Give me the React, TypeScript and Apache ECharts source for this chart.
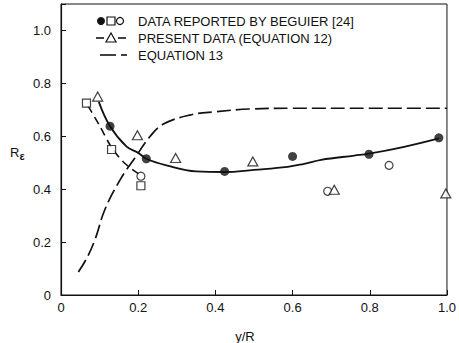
import React, { useEffect, useRef } from "react";
import * as echarts from "echarts";

// ---- data ----
const xTickLabels = ["0", "0.2", "0.4", "0.6", "0.8", "1.0"];
const yTickLabels = ["0", "0.2", "0.4", "0.6", "0.8", "1.0"];

// Beguier [24] data
const beguierFilledX = [0.127, 0.221, 0.424, 0.6, 0.798, 0.979];
const beguierFilledY = [0.638, 0.515, 0.467, 0.524, 0.532, 0.594];
const beguierSquareX = [0.066, 0.131, 0.207];
const beguierSquareY = [0.725, 0.55, 0.413];
const beguierCircleX = [0.207, 0.691, 0.85];
const beguierCircleY = [0.449, 0.392, 0.49];

// Present data (equation 12)
const presentX = [0.095, 0.198, 0.297, 0.497, 0.708, 0.997];
const presentY = [0.75, 0.604, 0.518, 0.505, 0.398, 0.384];

// Curve through present data (solid)
const eq12CurveX = [0.098, 0.127, 0.17, 0.2, 0.221, 0.273, 0.35, 0.424, 0.5, 0.587, 0.63, 0.674, 0.76, 0.798, 0.889, 0.979];
const eq12CurveY = [0.73, 0.638, 0.561, 0.538, 0.515, 0.49, 0.467, 0.465, 0.473, 0.484, 0.496, 0.511, 0.527, 0.534, 0.56, 0.592];

// Dashed curve through Beguier squares
const beguierCurveX = [0.07, 0.1, 0.131, 0.165, 0.207];
const beguierCurveY = [0.715, 0.64, 0.558, 0.498, 0.452];

// Equation 13 (long dash)
const eq13X = [0.045, 0.067, 0.089, 0.114, 0.155, 0.19, 0.23, 0.264, 0.333, 0.402, 0.488, 0.6, 0.8, 1.0];
const eq13Y = [0.087, 0.14, 0.213, 0.324, 0.44, 0.515, 0.598, 0.645, 0.68, 0.693, 0.703, 0.706, 0.706, 0.706];

const legendLabels = [
  "DATA REPORTED BY BEGUIER [24]",
  "PRESENT DATA (EQUATION 12)",
  "EQUATION 13",
];
const xAxisTitle = "y/R";

const zip = (xs: number[], ys: number[]) => xs.map((x, i) => [x, ys[i]]);

const INK = "#111";
const FONT = "'Liberation Sans Narrow', 'Liberation Sans', 'DejaVu Sans', sans-serif";

const fmt = (labels: string[]) => (v: number) => {
  const k = Math.round(v / 0.2);
  if (Math.abs(v - k * 0.2) > 1e-6) return "";
  return labels[k] ?? "";
};

export default function App() {
  const ref = useRef<HTMLDivElement>(null);
  useEffect(() => {
    if (!ref.current) return;
    const chart = echarts.init(ref.current, null, { renderer: "svg" });
    const lx = 101; // legend symbol start
    const tx = 138; // legend text start
    const r1 = 21, r2 = 38, r3 = 55;
    chart.setOption({
      animation: false,
      backgroundColor: "#fff",
      grid: {
        left: 61,
        right: 11,
        top: 4,
        bottom: 48,
        show: true,
        borderColor: INK,
        borderWidth: 1,
        backgroundColor: "transparent",
      },
      xAxis: {
        type: "value",
        min: 0,
        max: 1,
        interval: 0.2,
        axisLine: { show: true, onZero: false, lineStyle: { color: INK, width: 1.2 } },
        axisTick: { show: true, inside: true, length: 5, lineStyle: { color: INK } },
        splitLine: { show: false },
        axisLabel: {
          formatter: fmt(xTickLabels),
          color: INK,
          fontFamily: FONT,
          fontSize: 13,
          margin: 6,
        },
      },
      yAxis: {
        type: "value",
        min: 0,
        max: 1.1,
        interval: 0.2,
        axisLine: { show: true, onZero: false, lineStyle: { color: INK, width: 1.2 } },
        axisTick: { show: true, inside: true, length: 5, lineStyle: { color: INK } },
        splitLine: { show: false },
        axisLabel: {
          formatter: fmt(yTickLabels),
          color: INK,
          fontFamily: FONT,
          fontSize: 13,
          margin: 10,
        },
      },
      graphic: [
        // axis titles
        {
          type: "text",
          left: 10,
          top: 146,
          style: {
            text: "{a|R}{b|ε}",
            rich: {
              a: { fontFamily: FONT, fontSize: 13, fill: INK },
              b: { fontFamily: FONT, fontSize: 11, fontWeight: "bold", fill: INK, padding: [6, 0, 0, 0] },
            },
          },
        },
        {
          type: "text",
          x: 245,
          y: 330,
          style: { text: xAxisTitle, fontFamily: FONT, fontSize: 13, fill: INK, align: "center", verticalAlign: "top" },
        },
        // legend row 1
        { type: "circle", shape: { cx: lx, cy: r1, r: 4 }, style: { fill: INK } },
        { type: "rect", shape: { x: lx + 6, y: r1 - 4, width: 8, height: 8 }, style: { fill: "#fff", stroke: INK, lineWidth: 1.2 } },
        { type: "circle", shape: { cx: lx + 19, cy: r1, r: 3.5 }, style: { fill: "#fff", stroke: INK, lineWidth: 1.2 } },
        { type: "text", x: tx, y: r1, style: { text: legendLabels[0], fontFamily: FONT, fontSize: 13, fill: INK, verticalAlign: "middle" } },
        // legend row 2
        { type: "line", shape: { x1: lx - 5, y1: r2, x2: lx + 3, y2: r2 }, style: { stroke: INK, lineWidth: 1.6 } },
        { type: "polygon", shape: { points: [[lx + 10, r2 - 5], [lx + 5, r2 + 4], [lx + 15, r2 + 4]] }, style: { fill: "#fff", stroke: INK, lineWidth: 1.2 } },
        { type: "line", shape: { x1: lx + 17, y1: r2, x2: lx + 25, y2: r2 }, style: { stroke: INK, lineWidth: 1.6 } },
        { type: "text", x: tx, y: r2, style: { text: legendLabels[1], fontFamily: FONT, fontSize: 13, fill: INK, verticalAlign: "middle" } },
        // legend row 3
        { type: "line", shape: { x1: lx - 1, y1: r3, x2: lx + 15, y2: r3 }, style: { stroke: INK, lineWidth: 1.6 } },
        { type: "line", shape: { x1: lx + 20, y1: r3, x2: lx + 26, y2: r3 }, style: { stroke: INK, lineWidth: 1.6 } },
        { type: "text", x: tx, y: r3, style: { text: legendLabels[2], fontFamily: FONT, fontSize: 13, fill: INK, verticalAlign: "middle" } },
      ],
      series: [
        {
          name: "eq13",
          type: "line",
          data: zip(eq13X, eq13Y),
          smooth: 0.4,
          showSymbol: false,
          lineStyle: { color: INK, width: 1.7, type: [14, 5] },
          z: 2,
        },
        {
          name: "eq12curve",
          type: "line",
          data: zip(eq12CurveX, eq12CurveY),
          smooth: 0.4,
          showSymbol: false,
          lineStyle: { color: INK, width: 1.8 },
          z: 2,
        },
        {
          name: "beguierCurve",
          type: "line",
          data: zip(beguierCurveX, beguierCurveY),
          smooth: 0.3,
          showSymbol: false,
          lineStyle: { color: INK, width: 1.6, type: [8, 5] },
          z: 2,
        },
        {
          name: "beguierFilled",
          type: "scatter",
          data: zip(beguierFilledX, beguierFilledY),
          symbol: "circle",
          symbolSize: 9,
          itemStyle: { color: INK },
          clip: false,
          z: 5,
        },
        {
          name: "beguierSquares",
          type: "scatter",
          data: zip(beguierSquareX, beguierSquareY),
          symbol: "rect",
          symbolSize: 8,
          itemStyle: { color: "#fff", borderColor: INK, borderWidth: 1.2 },
          clip: false,
          z: 5,
        },
        {
          name: "beguierCircles",
          type: "scatter",
          data: zip(beguierCircleX, beguierCircleY),
          symbol: "circle",
          symbolSize: 8,
          itemStyle: { color: "#fff", borderColor: INK, borderWidth: 1.2 },
          clip: false,
          z: 5,
        },
        {
          name: "present",
          type: "scatter",
          data: zip(presentX, presentY),
          symbol: "triangle",
          symbolSize: [10, 9],
          itemStyle: { color: "#fff", borderColor: INK, borderWidth: 1.2 },
          clip: false,
          z: 5,
        },
      ],
    });
    return () => chart.dispose();
  }, []);
  return <div ref={ref} style={{ position: "fixed", left: 0, top: 0, width: 459, height: 343 }} />;
}
